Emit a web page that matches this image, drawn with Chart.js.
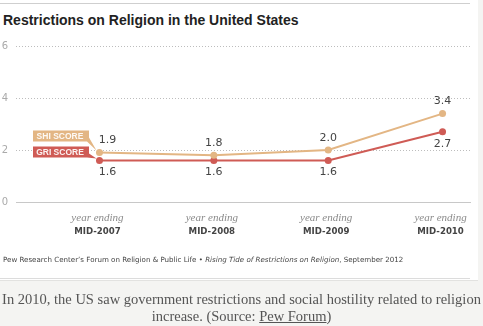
<!DOCTYPE html>
<html>
<head>
<meta charset="utf-8">
<script src="https://cdn.jsdelivr.net/npm/chart.js@4"></script>
<style>
  html, body { margin: 0; padding: 0; }
  body { width: 483px; height: 326px; background: #f4f4f2; position: relative; overflow: hidden; }
  .card { position: absolute; left: 0; top: 0; width: 478px; height: 280px; background: #fff; border-bottom: 1px solid #e2e2e0; }
  .topline { position: absolute; left: 0; top: 3px; width: 470px; height: 1px; background: #cfcfcf; }
  .title { position: absolute; left: 3px; top: 12px; font: bold 14px "Liberation Sans", Arial, sans-serif; color: #222; }
  .source { position: absolute; left: 3px; top: 255px; font: 7.1px "DejaVu Sans", Verdana, sans-serif; color: #444; white-space: nowrap; }
  .botline { position: absolute; left: 0; top: 278px; width: 470px; height: 1px; background: #dcdcdc; }
  #chartWrap { position: absolute; left: 0; top: 0; width: 478px; height: 282px; }
  .caption { position: absolute; left: 0; top: 291px; width: 483px; text-align: center; font: 14.5px "Liberation Serif", "DejaVu Serif", serif; color: #555; line-height: 17px; white-space: nowrap; }
  .caption u { text-decoration: underline; }
</style>
</head>
<body>
<div class="card"></div>
<div class="topline"></div>
<div class="title">Restrictions on Religion in the United States</div>
<div id="chartWrap"><canvas id="chart" width="478" height="282"></canvas></div>
<div class="source">Pew Research Center’s Forum on Religion &amp; Public Life • <i>Rising Tide of Restrictions on Religion</i>, September 2012</div>
<div class="botline"></div>
<div class="caption">In 2010, the US saw government restrictions and social hostility related to religion<br>increase. (Source: <u>Pew Forum</u>)</div>

<script>
// Chart data
const periods = ['MID-2007', 'MID-2008', 'MID-2009', 'MID-2010'];
const periodPrefix = 'year ending';
const shiScores = [1.9, 1.8, 2.0, 3.4];
const griScores = [1.6, 1.6, 1.6, 2.7];
const yTicks = [0, 2, 4, 6];

const SHI_COLOR = '#e3b684';
const GRI_COLOR = '#cf5b55';

// Value labels, period labels and series tags
const annotatePlugin = {
    id: 'annotate',
    afterDatasetsDraw(chart) {
        const ctx = chart.ctx;
        const xScale = chart.scales.x;
        ctx.save();

        // value labels
        ctx.font = '11px "DejaVu Sans", Verdana, sans-serif';
        ctx.fillStyle = '#444';
        ctx.textAlign = 'center';
        ctx.textBaseline = 'middle';
        chart.data.datasets.forEach((ds, di) => {
            const meta = chart.getDatasetMeta(di);
            meta.data.forEach((pt, i) => {
                const dx = i === 0 ? 8 : 0;
                const dy = di === 0 ? -12 : 12;
                ctx.fillText(ds.data[i].y.toFixed(1), pt.x + dx, pt.y + dy);
            });
        });

        // period labels under the axis
        periods.forEach((p, i) => {
            const x = xScale.getPixelForValue(i) - 2;
            ctx.font = 'italic 11px "Liberation Serif", "DejaVu Serif", serif';
            ctx.fillStyle = '#8a8a8a';
            ctx.fillText(periodPrefix, x, 218);
            ctx.font = 'bold 8.6px "DejaVu Sans", Verdana, sans-serif';
            ctx.fillStyle = '#444';
            ctx.fillText(p, x, 232);
        });

        // series tags next to the first points
        const tags = [
            { label: 'SHI SCORE', color: SHI_COLOR, ds: 0, top: -22 },
            { label: 'GRI SCORE', color: GRI_COLOR, ds: 1, top: -14 }
        ];
        tags.forEach(t => {
            const pt = chart.getDatasetMeta(t.ds).data[0];
            const x0 = 33, x1 = 89;
            const y0 = pt.y + t.top, y1 = y0 + 11;
            ctx.fillStyle = t.color;
            ctx.beginPath();
            ctx.moveTo(x0, y0);
            ctx.lineTo(x1, y0);
            ctx.lineTo(x1, y1 - 4);
            ctx.lineTo(pt.x - 3, pt.y - 2);
            ctx.lineTo(x1 - 2, y1);
            ctx.lineTo(x0, y1);
            ctx.closePath();
            ctx.fill();
            ctx.fillStyle = 'rgba(255,255,255,0.92)';
            ctx.font = 'bold 8.5px "Liberation Sans", Arial, sans-serif';
            ctx.fillText(t.label, (x0 + x1) / 2 - 1, (y0 + y1) / 2 + 0.5);
        });

        ctx.restore();
    }
};

new Chart(document.getElementById('chart'), {
    type: 'line',
    data: {
        datasets: [
            {
                label: 'SHI SCORE',
                data: shiScores.map((v, i) => ({ x: i, y: v })),
                borderColor: SHI_COLOR,
                backgroundColor: SHI_COLOR,
                borderWidth: 2,
                pointRadius: 3.5,
                pointBackgroundColor: SHI_COLOR,
                pointBorderWidth: 0,
                tension: 0
            },
            {
                label: 'GRI SCORE',
                data: griScores.map((v, i) => ({ x: i, y: v })),
                borderColor: GRI_COLOR,
                backgroundColor: GRI_COLOR,
                borderWidth: 2,
                pointRadius: 3.5,
                pointBackgroundColor: GRI_COLOR,
                pointBorderWidth: 0,
                tension: 0
            }
        ]
    },
    options: {
        responsive: false,
        animation: false,
        layout: { padding: { top: 46, bottom: 80, left: 0, right: 8 } },
        plugins: {
            legend: { display: false },
            tooltip: { enabled: false }
        },
        scales: {
            x: {
                type: 'linear',
                min: -0.73,
                max: 3.24,
                grid: { display: false },
                border: { display: true, color: '#c8c8c8', width: 1 },
                ticks: { display: false },
                afterFit: scale => { scale.height = 0; }
            },
            y: {
                min: 0,
                max: 6,
                afterBuildTicks: scale => { scale.ticks = yTicks.map(v => ({ value: v })); },
                afterFit: scale => { scale.width = 16; },
                border: { display: false, dash: [1, 2] },
                grid: {
                    drawTicks: false,
                    lineWidth: 1,
                    color: c => c.tick && c.tick.value === 0 ? 'rgba(0,0,0,0)' : '#bdbdbd'
                },
                ticks: {
                    padding: 8,
                    color: '#aaa',
                    font: { family: '"DejaVu Sans", Verdana, sans-serif', size: 10 }
                }
            }
        }
    },
    plugins: [annotatePlugin]
});
</script>
</body>
</html>
